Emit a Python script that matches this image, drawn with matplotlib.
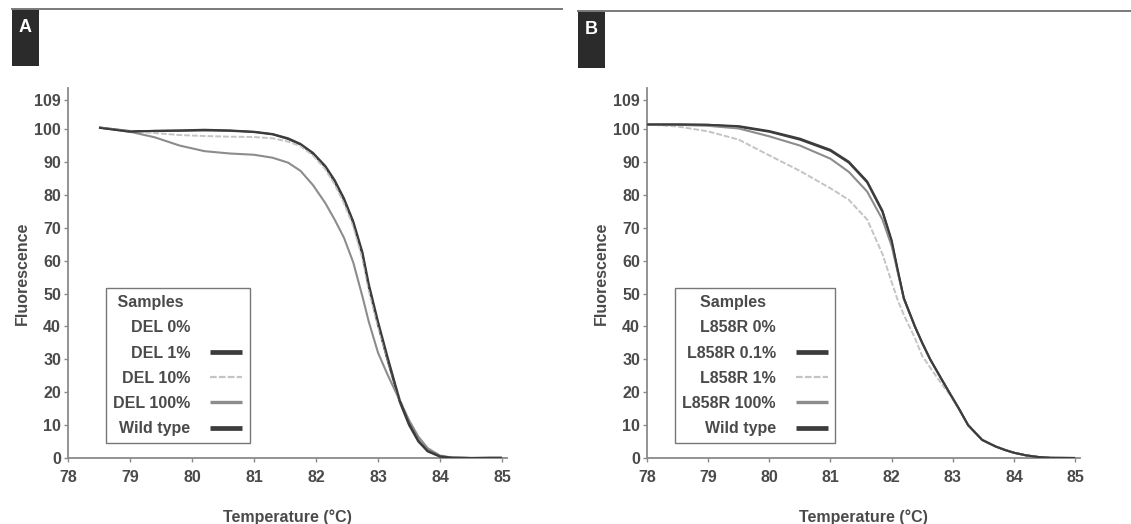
import matplotlib
matplotlib.use("Agg")
import matplotlib.pyplot as plt
from matplotlib.patches import Rectangle
from matplotlib.lines import Line2D

plt.rcParams['font.family'] = ['Liberation Sans', 'DejaVu Sans']
plt.rcParams['font.weight'] = 'bold'
plt.rcParams['axes.labelweight'] = 'bold'

# panel A: DEL mutation melting curves
temp_a = [78.5, 79.0, 79.4, 79.8, 80.2, 80.6, 81.0, 81.3, 81.55, 81.75, 81.95, 82.15, 82.3, 82.45,
          82.6, 82.75, 82.85, 83.0, 83.15, 83.35, 83.5, 83.65, 83.8, 84.0, 84.2, 84.5, 84.8, 85.0]
del_0 = [100.4, 99.3, 99.4, 99.5, 99.7, 99.5, 99.1, 98.4, 97.1, 95.4, 92.6, 88.6, 84.2, 78.7,
         71.7, 62.0, 52.5, 41.0, 30.5, 17.2, 10.2, 5.1, 2.1, 0.4, 0.1, 0.0, 0.0, 0.0]
del_1 = [100.5, 99.4, 99.4, 99.5, 99.6, 99.5, 99.1, 98.4, 97.0, 95.3, 92.5, 88.5, 84.0, 78.5,
         71.5, 61.5, 52.0, 40.5, 30.0, 17.0, 10.0, 5.0, 2.0, 0.4, 0.1, 0.0, 0.0, 0.0]
del_10 = [100.5, 99.3, 98.8, 98.2, 97.9, 97.7, 97.6, 97.2, 96.2, 94.8, 92.0, 87.8, 83.2, 77.5,
          70.5, 60.5, 51.0, 40.0, 30.5, 18.0, 11.0, 6.0, 2.8, 0.8, 0.2, 0.0, 0.0, 0.0]
del_100 = [100.5, 99.2, 97.5, 95.0, 93.3, 92.6, 92.2, 91.3, 89.8, 87.3, 83.0, 77.5, 72.5, 67.0,
           59.5, 49.0, 41.5, 32.0, 25.5, 17.5, 11.5, 6.5, 3.0, 0.7, 0.1, 0.0, 0.0, 0.0]
wt_a = [100.4, 99.2, 99.5, 99.6, 99.8, 99.6, 99.2, 98.5, 97.2, 95.5, 92.8, 88.8, 84.5, 79.0,
        72.0, 62.5, 53.0, 41.5, 31.0, 17.5, 10.5, 5.3, 2.2, 0.5, 0.1, 0.0, 0.1, 0.1]

# panel B: L858R mutation melting curves
temp_b = [78.0, 78.5, 79.0, 79.5, 80.0, 80.5, 81.0, 81.3, 81.6, 81.85, 82.0, 82.1, 82.2, 82.38,
          82.5, 82.63, 82.8, 82.94, 83.1, 83.25, 83.48, 83.7, 83.86, 84.0, 84.2, 84.4, 84.6, 85.0]
l858r_0 = [101.4, 101.4, 101.3, 100.8, 99.3, 97.0, 93.6, 90.0, 84.0, 75.0, 66.0, 57.0, 48.5, 40.0,
           35.0, 30.0, 24.5, 20.0, 15.0, 10.0, 5.5, 3.5, 2.4, 1.6, 0.8, 0.3, 0.05, 0.0]
l858r_01 = [101.4, 101.4, 101.3, 100.7, 99.2, 96.8, 93.4, 89.8, 83.8, 74.8, 65.8, 56.8, 48.4, 40.0,
            35.0, 30.0, 24.5, 20.0, 15.0, 10.0, 5.5, 3.5, 2.4, 1.6, 0.8, 0.3, 0.05, 0.0]
l858r_1 = [101.4, 100.8, 99.3, 96.8, 92.0, 87.3, 82.0, 78.5, 72.5, 62.0, 53.5, 48.0, 43.5, 36.5,
           31.0, 27.5, 23.0, 19.5, 14.8, 10.2, 5.6, 3.6, 2.5, 1.6, 0.8, 0.3, 0.05, 0.0]
l858r_100 = [101.4, 101.3, 101.0, 100.2, 97.8, 95.0, 91.0, 87.0, 81.0, 72.5, 64.5, 56.5, 48.5, 40.0,
             35.0, 30.0, 24.5, 20.0, 15.0, 10.0, 5.5, 3.5, 2.4, 1.6, 0.8, 0.3, 0.05, 0.0]
wt_b = [101.4, 101.4, 101.3, 100.9, 99.4, 97.1, 93.7, 90.1, 84.1, 75.2, 66.2, 57.2, 48.6, 40.0,
        35.0, 30.0, 24.5, 20.0, 15.0, 10.0, 5.5, 3.5, 2.4, 1.6, 0.8, 0.3, 0.05, 0.0]

labels_a = ['DEL 0%', 'DEL 1%', 'DEL 10%', 'DEL 100%', 'Wild type']
labels_b = ['L858R 0%', 'L858R 0.1%', 'L858R 1%', 'L858R 100%', 'Wild type']
yticks = [0, 10, 20, 30, 40, 50, 60, 70, 80, 90, 100, 109]
xticks = [78, 79, 80, 81, 82, 83, 84, 85]

# styles: (colour, plot width, legend width, linestyle)
styles = [('white', 1.4, 3.0, '-'),
          ('#3c3c3c', 1.5, 3.4, '-'),
          ('#c4c4c4', 1.4, 1.6, (0, (3, 1))),
          ('#8c8c8c', 1.5, 2.4, '-'),
          ('#3c3c3c', 1.5, 3.4, '-')]

txt = '#4a4a4a'
axc = '#8a8a8a'
fs = 11.5

fig = plt.figure(figsize=(11.31, 5.24), dpi=100)
W, H = 1131, 524


def make_panel(left_px, right_px, temps, series, labels, leg_left_px, title):
    ax = fig.add_axes([left_px / W, 66 / H, (right_px - left_px) / W, 370 / H])
    order = [0, 2, 3, 4, 1]
    for i in order:
        c, lw, _, ls = styles[i]
        ax.plot(temps, series[i], color=c, lw=lw, ls=ls if i == 2 else '-',
                zorder=1 if i == 0 else 2 + i, solid_capstyle='butt')
    ax.set_xlim(78, 85.08)
    ax.set_ylim(0, 112.5)
    ax.set_xticks(xticks)
    ax.set_yticks(yticks)
    for s in ['top', 'right']:
        ax.spines[s].set_visible(False)
    for s in ['left', 'bottom']:
        ax.spines[s].set_color(axc)
        ax.spines[s].set_linewidth(1.3)
    ax.tick_params(colors=axc, labelcolor=txt, labelsize=fs, length=3, width=1)
    ax.tick_params(axis='x', pad=6)
    ax.tick_params(axis='y', pad=2)
    ax.set_xlabel('Temperature (°C)', fontsize=fs, color=txt, labelpad=17)
    ax.set_ylabel('Fluorescence', fontsize=fs, color=txt, labelpad=3)

    handles = [Line2D([], [], color=styles[i][0], lw=styles[i][2],
                      ls=styles[i][3], solid_capstyle='butt') for i in range(5)]
    leg = ax.legend(handles, labels, title=title, markerfirst=False,
                    loc='upper left',
                    bbox_to_anchor=((leg_left_px - left_px) / (right_px - left_px), 170 / 370),
                    borderaxespad=0, fancybox=False, framealpha=1, edgecolor='#777777',
                    prop={'size': fs, 'weight': 'bold'}, labelspacing=0.64, handlelength=2.0,
                    handletextpad=1.25, borderpad=0.45, alignment='left', labelcolor=txt)
    leg.get_frame().set_linewidth(1.0)
    leg.get_title().set_color(txt)
    leg.get_title().set_fontsize(fs)
    leg.get_title().set_fontweight('bold')
    return ax


make_panel(68, 507, temp_a, [del_0, del_1, del_10, del_100, wt_a], labels_a, 106, ' Samples')
make_panel(647, 1080, temp_b, [l858r_0, l858r_01, l858r_1, l858r_100, wt_b], labels_b, 675,
           '    Samples')

# panel tags and rules along the top
for x0, x1, y0, tag in [(12, 562, 9, 'A'), (578, 1131, 11, 'B')]:
    fig.add_artist(Line2D([x0 / W, x1 / W], [1 - y0 / H, 1 - y0 / H], color='#7a7a7a', lw=1.4))
    fig.add_artist(Rectangle((x0 / W, 1 - (y0 + 57) / H), 27 / W, 57 / H, color='#2b2b2b', lw=0))
    fig.text((x0 + 13.5) / W, 1 - (y0 + 19) / H, tag, color='white', fontsize=13,
             fontweight='bold', ha='center', va='center')

fig.savefig('out.png', dpi=100)
